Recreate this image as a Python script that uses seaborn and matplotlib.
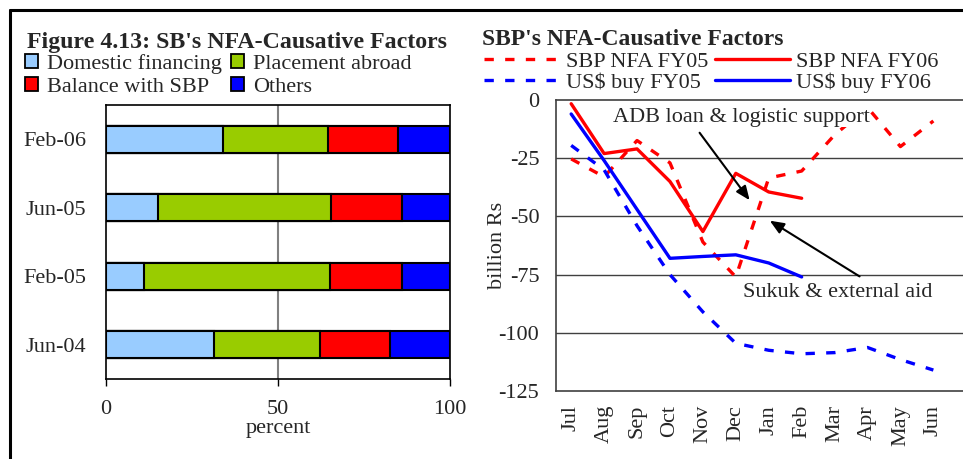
import numpy as np
import pandas as pd
import seaborn as sns
import matplotlib.pyplot as plt
from matplotlib.patches import Patch
from matplotlib.lines import Line2D

# left panel: composition of SB's NFA (percent)
periods = ["Feb-06", "Jun-05", "Feb-05", "Jun-04"]
domestic = [34.1, 15.0, 10.9, 31.3]
placement = [30.3, 50.5, 54.1, 30.8]
balance = [20.4, 20.5, 21.0, 20.5]
others = [15.2, 14.0, 14.0, 17.4]
bar_labels = ["Domestic financing", "Placement abroad", "Balance with SBP", "Others"]
bar_colors = ["#99CCFF", "#99CC00", "#FF0000", "#0000FF"]

# right panel: billion Rs
months = ["Jul", "Aug", "Sep", "Oct", "Nov", "Dec", "Jan", "Feb", "Mar", "Apr", "May", "Jun"]
nfa_fy05 = [-25.3, -33, -17.4, -27, -61, -76, -33.5, -30.5, -15, -3.2, -20, -9]
nfa_fy06 = [-1.6, -23, -21, -35, -56.5, -31.5, -39.5, -42.2]
usd_fy05 = [-19.5, -30, -54, -75, -91, -104.5, -107.5, -109, -108.5, -106.3, -111.5, -116]
usd_fy06 = [-6, -26, -47, -68, -67.2, -66.5, -70, -76]

sns.set_style("white")
plt.rcParams["font.family"] = ["Liberation Serif", "DejaVu Serif"]
plt.rcParams["axes.unicode_minus"] = False
fs = 16

fig = plt.figure(figsize=(9.63, 4.59), dpi=100)
ax1 = fig.add_axes([0.1101, 0.1743, 0.3572, 0.597])
ax2 = fig.add_axes([0.5774, 0.1481, 0.4226, 0.634])

# --- stacked bars, drawn as overlapping cumulative totals
df = pd.DataFrame({"period": periods, bar_labels[0]: domestic, bar_labels[1]: placement,
                   bar_labels[2]: balance, bar_labels[3]: others})
cum = df[bar_labels].cumsum(axis=1)
for lab, col in reversed(list(zip(bar_labels, bar_colors))):
    sns.barplot(x=cum[lab], y=df["period"], order=periods, orient="h", color=col,
                saturation=1, width=0.4, edgecolor="black", linewidth=1.5, ax=ax1)
ax1.set_xlim(0, 100)
ax1.set_xticks([0, 50, 100])
ax1.axvline(50, color="#808080", lw=1.5, zorder=0)
ax1.set_xlabel("percent", fontsize=fs, labelpad=0)
ax1.set_ylabel("")
ax1.tick_params(axis="x", length=5, width=1, color="black", labelsize=fs, pad=10, direction="out", bottom=True)
ax1.tick_params(axis="y", length=0, labelsize=fs, pad=14)
for s in ax1.spines.values():
    s.set_color("black")
    s.set_linewidth(1.2)

# --- lines
pos = np.arange(len(months))
dash = (0, (2.8, 3.4))
sns.lineplot(x=pos, y=nfa_fy05, color="red", lw=2.4, linestyle=dash, ax=ax2)
sns.lineplot(x=pos, y=usd_fy05, color="blue", lw=2.4, linestyle=dash, ax=ax2)
sns.lineplot(x=pos[:len(nfa_fy06)], y=nfa_fy06, color="red", lw=2.4, ax=ax2)
sns.lineplot(x=pos[:len(usd_fy06)], y=usd_fy06, color="blue", lw=2.4, ax=ax2)
ax2.set_xlim(-0.46, 11.9)
ax2.set_ylim(-125, 0)
ax2.set_yticks([0, -25, -50, -75, -100, -125])
ax2.set_xticks(pos, months, rotation=90)
for v in [-25, -50, -75, -100]:
    ax2.axhline(v, color="#404040", lw=1, zorder=0)
ax2.set_ylabel("billion Rs", fontsize=fs, labelpad=-6)
ax2.tick_params(axis="both", length=0, labelsize=fs)
ax2.tick_params(axis="x", pad=10)
ax2.tick_params(axis="y", pad=12)
ax2.spines["right"].set_visible(False)
for k in ["left", "top", "bottom"]:
    ax2.spines[k].set_color("#404040")
    ax2.spines[k].set_linewidth(1.2)

ax2.annotate("", xy=(5.47, -44), xytext=(3.85, -13.1),
             arrowprops=dict(arrowstyle="-|>,head_length=0.6,head_width=0.25", color="black", lw=1.5,
                             mutation_scale=14))
ax2.annotate("", xy=(5.96, -51.2), xytext=(8.83, -76.4),
             arrowprops=dict(arrowstyle="-|>,head_length=0.6,head_width=0.25", color="black", lw=1.5,
                             mutation_scale=14))
ax2.text(5.16, -7.3, "ADB loan & logistic support", fontsize=fs, ha="center", va="center",
         bbox=dict(fc="white", ec="none", pad=0.5))
ax2.text(8.09, -82.6, "Sukuk & external aid", fontsize=fs, ha="center", va="center")

# --- titles and legends
fig.text(0.028, 0.907, "Figure 4.13: SB's NFA-Causative Factors", fontsize=17.2, fontweight="bold",
         ha="left", va="center")
fig.text(0.5005, 0.915, "SBP's NFA-Causative Factors", fontsize=17, fontweight="bold",
         ha="left", va="center")

bh = [Patch(facecolor=c, edgecolor="black", linewidth=1.3) for c in bar_colors]
order = [0, 2, 1, 3]
fig.legend([bh[i] for i in order], [bar_labels[i] for i in order], ncol=2,
           loc="upper left", bbox_to_anchor=(0.026, 0.882), frameon=False, fontsize=fs,
           handlelength=0.6, handleheight=0.6, handletextpad=0.4, columnspacing=0.4,
           labelspacing=0.12, borderpad=0, borderaxespad=0)

lh = [Line2D([], [], color="red", lw=2.4, linestyle=dash),
      Line2D([], [], color="blue", lw=2.4, linestyle=dash),
      Line2D([], [], color="red", lw=2.4),
      Line2D([], [], color="blue", lw=2.4)]
ll = ["SBP NFA FY05", "US$ buy FY05", "SBP NFA FY06", "US$ buy FY06"]
fig.legend(lh, ll, ncol=2, loc="upper left", bbox_to_anchor=(0.503, 0.888), frameon=False,
           fontsize=fs, handlelength=3.4, handletextpad=0.25, columnspacing=0.3,
           labelspacing=0.0, borderpad=0, borderaxespad=0)

# outer frame of the figure box
fig.add_artist(Line2D([0.0105, 1.0], [0.978, 0.978], color="black", lw=2.2, transform=fig.transFigure))
fig.add_artist(Line2D([0.0105, 0.0105], [0.0, 0.978], color="black", lw=2.2, transform=fig.transFigure))

fig.savefig("out.png", dpi=100)
